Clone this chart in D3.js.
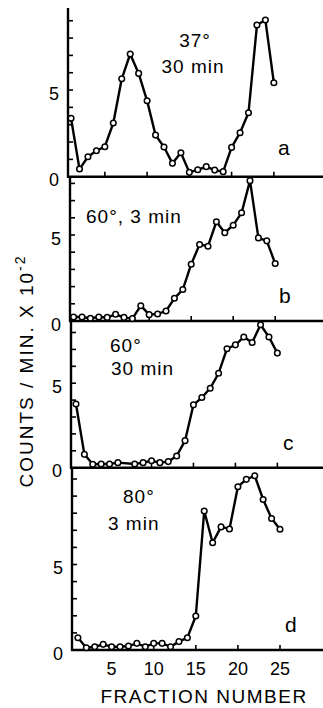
<!DOCTYPE html>
<html><head><meta charset="utf-8">
<script src="https://cdn.jsdelivr.net/npm/d3@7"></script>
<style>
html,body{margin:0;padding:0;background:#fff;}
svg{display:block;}
text{font-family:"Liberation Sans",Arial,sans-serif;fill:#000;}
</style></head><body>
<svg id="chart" width="323" height="708"></svg>
<script>
// ---- data ----
const fractions  = [1,2,3,4,5,6,7,8,9,10,11,12,13,14,15,16,17,18,19,20,21,22,23,24,25];
const fractionsC = [1,2,3,4,5,6,8,9,10,11,12,13,14,15,16,17,18,19,20,21,22,23,24,25];
const valuesA = [3.37,0.44,1.15,1.5,1.73,3.1,5.65,7.08,5.96,4.38,2.4,1.71,0.77,1.38,0.25,0.4,0.58,0.38,0.29,1.69,2.54,3.69,8.75,9.04,5.42];
const valuesB = [0.23,0.23,0.16,0.23,0.21,0.39,0.21,0.14,0.89,0.37,0.41,0.58,1.32,1.83,3.3,4.45,4.35,5.77,5.13,5.57,6.29,8.16,4.83,4.66,3.34];
const valuesC = [3.77,0.79,0.2,0.22,0.22,0.3,0.22,0.3,0.41,0.3,0.36,0.69,1.6,3.72,4.15,4.7,5.59,7.04,7.27,7.73,7.41,8.46,7.73,6.78];
const valuesD = [0.72,0.13,0.19,0.33,0.19,0.19,0.23,0.39,0.19,0.39,0.39,0.19,0.49,0.72,1.99,8.13,6.27,7.2,7.08,9.55,9.98,10.19,8.8,7.69,7.06];
const panelLetters = ["a","b","c","d"];
const conditions = [["37°","30 min"],["60°, 3 min"],["60°","30 min"],["80°","3 min"]];
const xTickValues = [5,10,15,20,25];
const yLabelValues = [0,5];
const xTitle = "FRACTION NUMBER";
const yTitle = "COUNTS / MIN. X 10";
const yTitleSup = "-2";

// ---- layout (positions only) ----
const layout = [
  {base:176.7, top:8,     axisX:68, x0:62.6, pf:8.45, unit:17.33,
   cond:[{x:195,y:47,a:"middle"},{x:193,y:73,a:"middle"}], letter:{x:278,y:155}},
  {base:321,   top:176.7, axisX:70, x0:65.2, pf:8.4,  unit:17.2,
   cond:[{x:86,y:223,a:"start"}], letter:{x:279,y:303}},
  {base:467.7, top:321,   axisX:71, x0:67.6, pf:8.39, unit:16.9,
   cond:[{x:110,y:352,a:"start"},{x:111,y:375,a:"start"}], letter:{x:283,y:450}},
  {base:650,   top:467.7, axisX:72, x0:69.5, pf:8.42, unit:17.1,
   cond:[{x:123,y:503,a:"start"},{x:108,y:530,a:"start"}], letter:{x:285,y:632}}
];
const series = [
  {fr:fractions,  vals:valuesA},
  {fr:fractions,  vals:valuesB},
  {fr:fractionsC, vals:valuesC},
  {fr:fractions,  vals:valuesD}
];

const svg = d3.select("#chart");
const W = 323;

layout.forEach((L, i) => {
  const g = svg.append("g");
  const x = d3.scaleLinear().domain([0, 30]).range([L.x0, L.x0 + 30 * L.pf]);
  const y = d3.scaleLinear().domain([0, 10]).range([L.base, L.base - 10 * L.unit]);
  const nTicks = Math.floor((L.base - L.top) / L.unit);
  const yTicks = d3.range(1, nTicks + 1);

  // y axis line + inward ticks
  g.append("line").attr("x1", L.axisX).attr("x2", L.axisX)
    .attr("y1", L.top).attr("y2", L.base + 1)
    .attr("stroke", "#000").attr("stroke-width", 2.4);
  g.selectAll(".yt").data(yTicks).enter().append("line")
    .attr("x1", L.axisX).attr("x2", L.axisX + 5)
    .attr("y1", d => y(d)).attr("y2", d => y(d))
    .attr("stroke", "#000").attr("stroke-width", 1.6);
  g.selectAll(".yl").data(yLabelValues).enter().append("text")
    .attr("x", L.axisX - 9).attr("y", d => y(d) + 9.5)
    .attr("text-anchor", "end").attr("font-size", 18).text(d => d);

  // x axis line + inward ticks
  g.append("line").attr("x1", L.axisX - 1).attr("x2", W)
    .attr("y1", L.base).attr("y2", L.base)
    .attr("stroke", "#000").attr("stroke-width", 2.4);
  g.selectAll(".xt").data(xTickValues).enter().append("line")
    .attr("x1", d => x(d)).attr("x2", d => x(d))
    .attr("y1", L.base).attr("y2", L.base - 5)
    .attr("stroke", "#000").attr("stroke-width", 1.6);

  if (i === layout.length - 1) {
    g.selectAll(".xl").data(xTickValues).enter().append("text")
      .attr("x", d => x(d)).attr("y", L.base + 25)
      .attr("text-anchor", "middle").attr("font-size", 18).text(d => d);
  }

  // data line + open circles
  const S = series[i];
  const pts = S.fr.map((f, k) => [f, S.vals[k]]);
  g.append("path").datum(pts)
    .attr("d", d3.line().x(d => x(d[0])).y(d => y(d[1])))
    .attr("fill", "none").attr("stroke", "#000").attr("stroke-width", 2.4)
    .attr("stroke-linejoin", "round");
  g.selectAll("circle").data(pts).enter().append("circle")
    .attr("cx", d => x(d[0])).attr("cy", d => y(d[1])).attr("r", 2.8)
    .attr("fill", "#fff").attr("stroke", "#000").attr("stroke-width", 1.5);

  // condition text
  conditions[i].forEach((t, k) => {
    const c = L.cond[k];
    g.append("text").attr("x", c.x).attr("y", c.y).attr("text-anchor", c.a)
      .attr("font-size", 19).attr("letter-spacing", 1).text(t);
  });
  g.append("text").attr("x", L.letter.x).attr("y", L.letter.y)
    .attr("font-size", 21).text(panelLetters[i]);
});

// axis titles
svg.append("text").attr("x", 204).attr("y", 703).attr("text-anchor", "middle")
  .attr("font-size", 19).attr("letter-spacing", 1.5).text(xTitle);
const yt = svg.append("text").attr("transform", "translate(33,371) rotate(-90)")
  .attr("text-anchor", "middle").attr("font-size", 19).attr("letter-spacing", 2);
yt.append("tspan").text(yTitle);
yt.append("tspan").attr("dy", -8).attr("font-size", 14).text(yTitleSup);
</script>
</body></html>
